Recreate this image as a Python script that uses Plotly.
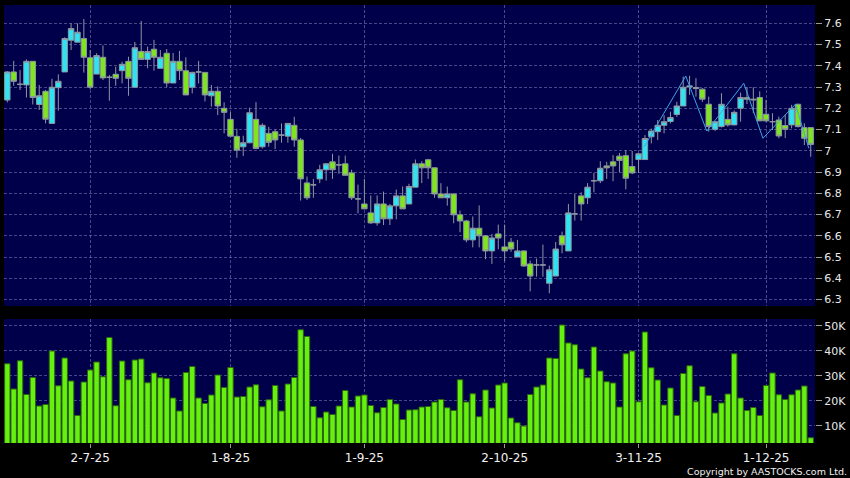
import pandas as pd
import plotly.graph_objects as go
from plotly.subplots import make_subplots

# trading days shown on the chart
days = pd.bdate_range('2025-06-12', '2025-12-10')
days = days.drop(pd.to_datetime(['2025-07-01', '2025-10-01', '2025-10-07']))
dates = [d.strftime('%Y-%m-%d') for d in days]

open_ = [7.239, 7.371, 7.313, 7.310, 7.421, 7.218, 7.280, 7.129, 7.297, 7.371,
         7.520, 7.511, 7.528, 7.438, 7.361, 7.440, 7.346, 7.360, 7.377, 7.421,
         7.299, 7.467, 7.430, 7.478, 7.388, 7.459, 7.319, 7.421, 7.377, 7.299,
         7.371, 7.369, 7.259, 7.280, 7.200, 7.148, 7.068, 7.019, 7.038, 7.148,
         7.019, 7.082, 7.090, 7.074, 7.069, 7.120, 7.051, 6.849, 6.840, 6.868,
         6.911, 6.948, 6.934, 6.939, 6.896, 6.774, 6.750, 6.708, 6.661, 6.750,
         6.680, 6.741, 6.788, 6.750, 6.829, 6.939, 6.958, 6.920, 6.797, 6.779,
         6.797, 6.699, 6.670, 6.581, 6.636, 6.600, 6.529, 6.609, 6.548, 6.570,
         6.501, 6.529, 6.468, 6.463, 6.463, 6.377, 6.411, 6.600, 6.529, 6.703,
         6.788, 6.779, 6.859, 6.859, 6.929, 6.948, 6.975, 6.977, 6.926, 6.959,
         6.959, 7.066, 7.090, 7.120, 7.138, 7.171, 7.211, 7.300, 7.298, 7.290,
         7.219, 7.101, 7.114, 7.148, 7.122, 7.200, 7.250, 7.243, 7.251, 7.172,
         7.137, 7.145, 7.119, 7.122, 7.219, 7.109, 7.109]
high = [7.375, 7.423, 7.380, 7.430, 7.421, 7.310, 7.286, 7.339, 7.360, 7.534,
        7.600, 7.600, 7.620, 7.474, 7.459, 7.496, 7.357, 7.396, 7.419, 7.443,
        7.512, 7.611, 7.490, 7.522, 7.474, 7.479, 7.460, 7.470, 7.440, 7.372,
        7.423, 7.369, 7.310, 7.303, 7.228, 7.182, 7.104, 7.071, 7.203, 7.229,
        7.129, 7.113, 7.101, 7.129, 7.129, 7.160, 7.060, 6.879, 6.868, 6.934,
        6.942, 6.986, 6.978, 6.978, 6.911, 6.841, 6.868, 6.790, 6.790, 6.808,
        6.750, 6.818, 6.832, 6.845, 6.959, 6.951, 6.962, 6.922, 6.848, 6.832,
        6.800, 6.719, 6.675, 6.691, 6.743, 6.602, 6.609, 6.653, 6.653, 6.590,
        6.581, 6.531, 6.484, 6.493, 6.559, 6.460, 6.571, 6.620, 6.750, 6.797,
        6.805, 6.848, 6.896, 6.951, 6.948, 6.980, 6.990, 7.003, 6.999, 6.990,
        7.074, 7.105, 7.145, 7.168, 7.184, 7.231, 7.349, 7.353, 7.342, 7.295,
        7.255, 7.140, 7.271, 7.208, 7.190, 7.274, 7.300, 7.299, 7.280, 7.240,
        7.177, 7.161, 7.170, 7.216, 7.222, 7.130, 7.109]
low = [7.228, 7.306, 7.286, 7.251, 7.218, 7.192, 7.129, 7.129, 7.189, 7.371,
       7.474, 7.511, 7.368, 7.289, 7.361, 7.333, 7.236, 7.306, 7.317, 7.259,
       7.299, 7.430, 7.388, 7.377, 7.388, 7.299, 7.319, 7.333, 7.263, 7.270,
       7.317, 7.232, 7.208, 7.168, 7.082, 7.069, 6.967, 6.976, 7.035, 7.011,
       7.011, 7.019, 7.008, 7.038, 7.038, 7.019, 6.766, 6.769, 6.779, 6.848,
       6.860, 6.868, 6.892, 6.885, 6.769, 6.706, 6.727, 6.656, 6.648, 6.651,
       6.651, 6.678, 6.727, 6.750, 6.829, 6.848, 6.868, 6.779, 6.779, 6.742,
       6.659, 6.617, 6.570, 6.546, 6.546, 6.490, 6.468, 6.537, 6.480, 6.525,
       6.499, 6.455, 6.339, 6.408, 6.408, 6.330, 6.411, 6.518, 6.529, 6.672,
       6.672, 6.750, 6.805, 6.848, 6.868, 6.857, 6.899, 6.819, 6.890, 6.896,
       6.959, 7.035, 7.051, 7.082, 7.129, 7.160, 7.211, 7.263, 7.255, 7.230,
       7.090, 7.093, 7.110, 7.114, 7.120, 7.137, 7.220, 7.177, 7.140, 7.135,
       7.098, 7.059, 7.060, 7.106, 7.110, 7.027, 6.972]
close = [7.371, 7.327, 7.313, 7.421, 7.251, 7.259, 7.149, 7.299, 7.327, 7.528,
         7.575, 7.558, 7.440, 7.299, 7.448, 7.343, 7.346, 7.341, 7.407, 7.341,
         7.485, 7.430, 7.467, 7.440, 7.440, 7.319, 7.421, 7.377, 7.263, 7.369,
         7.371, 7.263, 7.280, 7.211, 7.181, 7.069, 7.003, 7.038, 7.179, 7.011,
         7.120, 7.040, 7.051, 7.074, 7.129, 7.051, 6.868, 6.779, 6.840, 6.911,
         6.939, 6.911, 6.934, 6.885, 6.779, 6.774, 6.727, 6.661, 6.750, 6.680,
         6.741, 6.788, 6.727, 6.832, 6.939, 6.920, 6.920, 6.797, 6.779, 6.797,
         6.699, 6.670, 6.581, 6.636, 6.600, 6.529, 6.590, 6.590, 6.529, 6.538,
         6.529, 6.458, 6.411, 6.463, 6.463, 6.440, 6.538, 6.558, 6.708, 6.703,
         6.750, 6.829, 6.859, 6.918, 6.920, 6.929, 6.955, 6.871, 6.896, 6.986,
         7.058, 7.093, 7.120, 7.137, 7.157, 7.211, 7.299, 7.305, 7.293, 7.243,
         7.114, 7.137, 7.219, 7.122, 7.181, 7.251, 7.243, 7.240, 7.141, 7.141,
         7.137, 7.070, 7.101, 7.200, 7.114, 7.059, 7.030]

# volume in thousands of shares
volume_k = [34.8, 24.7, 36.0, 22.5, 29.3, 17.9, 18.5, 39.9, 26.0, 37.1,
            27.9, 14.1, 27.5, 32.3, 35.5, 29.6, 45.3, 18.0, 35.9, 28.4,
            36.3, 36.7, 27.2, 31.1, 29.2, 28.9, 21.1, 15.9, 31.3, 33.7,
            21.1, 18.9, 22.3, 30.3, 25.3, 33.3, 21.5, 21.7, 25.5, 26.4,
            17.6, 20.4, 26.1, 15.9, 26.7, 29.3, 48.4, 45.7, 17.7, 13.2,
            15.5, 14.5, 17.9, 24.1, 17.5, 21.9, 22.3, 18.1, 15.2, 17.3,
            20.5, 18.7, 12.5, 16.3, 16.4, 17.5, 17.7, 19.5, 20.5, 17.2,
            16.1, 28.4, 19.5, 22.8, 13.6, 24.3, 17.1, 26.3, 27.1, 13.1,
            11.2, 9.9, 22.5, 25.5, 26.3, 37.1, 36.9, 50.3, 43.1, 42.4,
            32.7, 29.2, 41.5, 31.9, 27.6, 27.1, 17.5, 38.8, 39.9, 19.6,
            47.5, 33.2, 28.3, 18.3, 25.1, 14.1, 30.9, 34.0, 19.6, 25.7,
            22.1, 15.1, 19.1, 22.7, 38.8, 21.1, 16.1, 17.3, 14.1, 26.1,
            31.1, 22.4, 20.5, 22.4, 24.3, 25.9, 5.2]
vol_ticks = [10, 20, 30, 40, 50]

# zigzag overlay (bar position, price)
zz_pos = [99.9, 106.4, 109.7, 115.5, 118.5, 123.6, 125.7]
zz_price = [7.02, 7.352, 7.093, 7.318, 7.059, 7.219, 7.012]

tick_dates = ['2025-07-02', '2025-08-01', '2025-09-01', '2025-10-02', '2025-11-03', '2025-12-01']

pos = list(range(len(dates)))
tickvals = [dates.index(d) for d in tick_dates]
ticktext = [f"{pd.Timestamp(d).day}-{pd.Timestamp(d).month}-{pd.Timestamp(d):%y}" for d in tick_dates]

NAVY = '#00004a'
GRID = 'rgba(130,130,190,0.55)'
font = dict(family='DejaVu Sans', size=11, color='#e8e8e8')

fig = make_subplots(rows=2, cols=1, shared_xaxes=True)

fig.add_trace(
    go.Candlestick(
        x=pos, open=open_, high=high, low=low, close=close,
        increasing=dict(fillcolor='#2ee4f2', line=dict(color='#8e96a0', width=1)),
        decreasing=dict(fillcolor='#7ee51e', line=dict(color='#8e96a0', width=1)),
        whiskerwidth=0,
        showlegend=False,
    ),
    row=1, col=1
)

fig.add_trace(
    go.Scatter(
        x=zz_pos, y=zz_price, mode='lines',
        line=dict(color='#3fa2e6', width=1),
        showlegend=False,
    ),
    row=1, col=1
)

fig.add_trace(
    go.Bar(
        x=pos, y=volume_k,
        marker=dict(color='#66f010', line=dict(color='#2d6410', width=1)),
        showlegend=False,
    ),
    row=2, col=1
)

axis_common = dict(showgrid=True, gridcolor=GRID, griddash='3px,2px', gridwidth=1,
                   zeroline=False, showline=False)

fig.update_xaxes(range=[-0.52, 126.67], tickvals=tickvals, ticktext=ticktext,
                 rangeslider_visible=False, **axis_common)
fig.update_xaxes(showticklabels=False, ticks='', row=1, col=1)
fig.update_xaxes(showticklabels=True, ticks='outside', ticklen=4, tickcolor='#9a9a9a',
                 tickfont=dict(family='DejaVu Sans', size=12, color='#f0f0f0'), row=2, col=1)

fig.update_yaxes(side='right', ticks='outside', ticklen=6, tickcolor='#9a9a9a',
                 tickfont=font, **axis_common)
fig.update_yaxes(range=[6.270, 7.686], dtick=0.1, domain=[0.3128, 1.0], row=1, col=1)
fig.update_yaxes(range=[3.1, 52.7], tickvals=vol_ticks, ticktext=[f"{v}K" for v in vol_ticks],
                 domain=[0.0, 0.2831], row=2, col=1)

fig.add_annotation(
    text='Copyright by AASTOCKS.com Ltd.', xref='paper', yref='paper',
    x=1.042, y=-0.0655, xanchor='right', yanchor='middle', showarrow=False,
    font=dict(family='DejaVu Sans', size=9.5, color='#f0f0f0')
)

fig.update_layout(
    width=850, height=478,
    margin=dict(l=4, r=32, t=5, b=35),
    paper_bgcolor='#000000',
    plot_bgcolor=NAVY,
    boxgap=0.15, boxgroupgap=0,
    bargap=0.15,
    hovermode='x',
    font=font,
)

# page body has a default margin; drop it so the chart sits at the window corner
fig.write_html("out.html", config={'displayModeBar': False},
               post_script="document.body.style.margin='0px';document.body.style.background='#000';")
